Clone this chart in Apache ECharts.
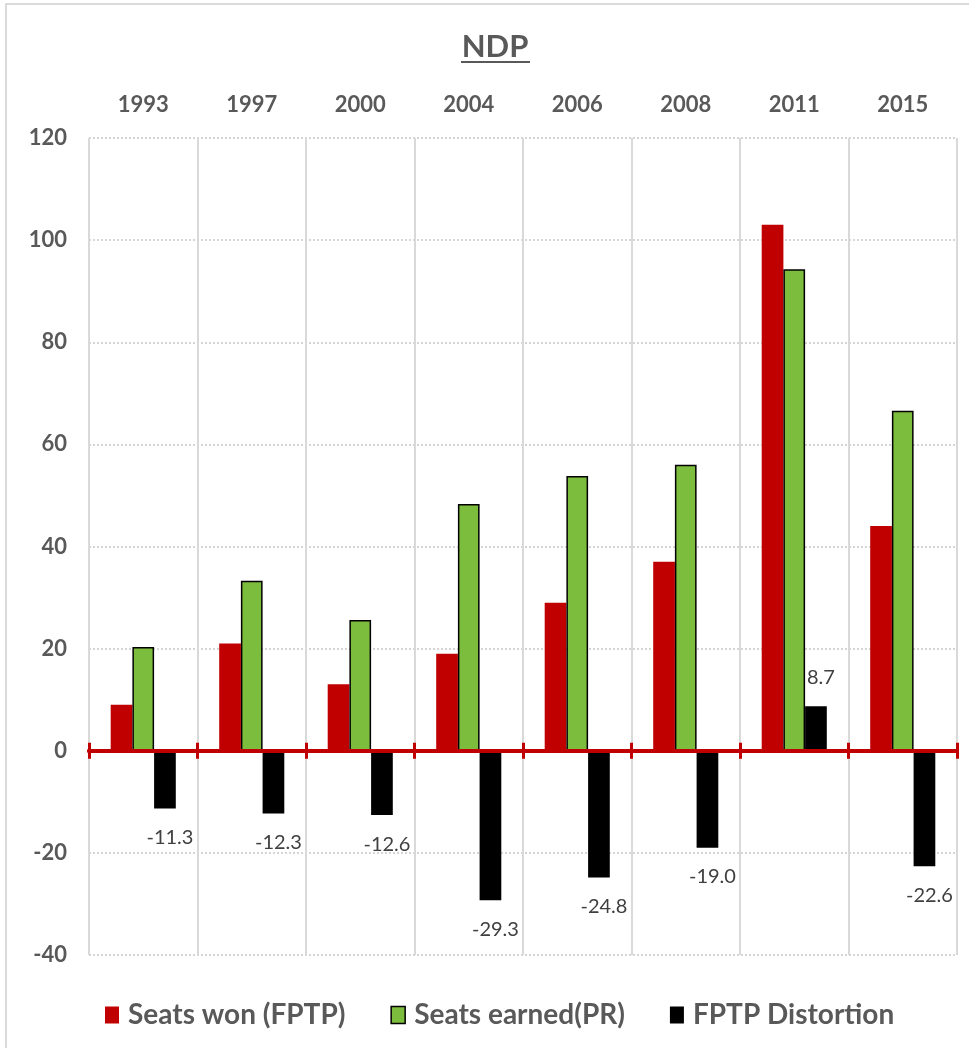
<!DOCTYPE html>
<html>
<head>
<meta charset="utf-8">
<script src="https://cdn.jsdelivr.net/npm/echarts@6/dist/echarts.min.js"></script>
<style>
html,body{margin:0;padding:0;background:#fff;}
#chart{width:969px;height:1048px;}
</style>
</head>
<body>
<div id="chart"></div>
<script>
const years = ['1993','1997','2000','2004','2006','2008','2011','2015'];
const seatsWon = [9, 21, 13, 19, 29, 37, 103, 44];
const seatsEarned = [20.3, 33.3, 25.6, 48.3, 53.8, 56.0, 94.3, 66.6];
const distortion = [-11.3, -12.3, -12.6, -29.3, -24.8, -19.0, 8.7, -22.6];
const yTicks = {min: -40, max: 120, interval: 20};

const FONT = 'Lato, "Open Sans", sans-serif';
const GREY = '#595959';
const RED = '#c00000';

const chart = echarts.init(document.getElementById('chart'), null, {renderer: 'canvas'});

const redAxisLine = {show: true, onZero: true, onZeroAxisIndex: 0, lineStyle: {color: RED, width: 4}};
const redTick = {show: true, length: 8, lineStyle: {color: RED, width: 3}};

chart.setOption({
  animation: false,
  backgroundColor: '#fff',
  grid: {left: 89, right: 12, top: 138, bottom: 93, containLabel: false},
  graphic: [
    {type: 'rect', shape: {x: 6, y: 4, width: 1000, height: 1100}, style: {fill: null, stroke: '#d0d0d0', lineWidth: 1.5}, z: -10},
    {type: 'text', x: 495, y: 47, style: {text: 'NDP', font: 'bold 31px ' + FONT, fill: GREY, textAlign: 'center', textVerticalAlign: 'middle'}},
    {type: 'line', shape: {x1: 461, y1: 62, x2: 530, y2: 62}, style: {stroke: GREY, lineWidth: 2}}
  ],
  legend: {
    top: 996,
    left: 100,
    itemWidth: 14,
    itemHeight: 17,
    itemGap: 45,
    textStyle: {fontFamily: FONT, fontSize: 28, fontWeight: 'bold', color: GREY, padding: [0, 0, 0, 4]},
    data: [
      {name: 'Seats won (FPTP)', icon: 'rect'},
      {name: 'Seats earned(PR)', icon: 'rect', itemStyle: {borderColor: '#000', borderWidth: 1.5}},
      {name: 'FPTP Distortion', icon: 'rect'}
    ]
  },
  xAxis: [
    {
      type: 'category', data: years, position: 'bottom', z: 5,
      axisLine: redAxisLine, axisTick: redTick,
      axisLabel: {show: false},
      splitLine: {show: true, lineStyle: {color: '#d9d9d9', width: 2}}
    },
    {
      type: 'category', data: years, position: 'top',
      axisLine: {show: false, onZero: false}, axisTick: {show: false},
      axisLabel: {show: true, margin: 22, fontFamily: FONT, fontSize: 22, fontWeight: 'bold', color: GREY},
      splitLine: {show: false}
    },
    {
      type: 'category', data: years, position: 'top', z: 5,
      axisLine: redAxisLine, axisTick: redTick,
      axisLabel: {show: false},
      splitLine: {show: false}
    }
  ],
  yAxis: {
    type: 'value', min: yTicks.min, max: yTicks.max, interval: yTicks.interval,
    axisLine: {show: false}, axisTick: {show: false},
    axisLabel: {margin: 22, fontFamily: FONT, fontSize: 22, fontWeight: 'bold', color: GREY},
    splitLine: {show: true, lineStyle: {color: '#c8c8c8', width: 1.5, type: [2, 2]}}
  },
  series: [
    {
      name: 'Seats won (FPTP)', type: 'bar', xAxisIndex: 0, data: seatsWon,
      barGap: '0%', barCategoryGap: '40%',
      itemStyle: {color: RED}
    },
    {
      name: 'Seats earned(PR)', type: 'bar', xAxisIndex: 0, data: seatsEarned,
      barGap: '0%', barCategoryGap: '40%',
      itemStyle: {color: '#7dbd3e', borderColor: '#000', borderWidth: 1.5}
    },
    {
      name: 'FPTP Distortion', type: 'bar', xAxisIndex: 0, data: distortion,
      barGap: '0%', barCategoryGap: '40%',
      itemStyle: {color: '#000'},
      label: {
        show: true, position: 'outside', distance: 19, offset: [5, 0],
        fontFamily: FONT, fontSize: 20, color: '#404040',
        formatter: p => p.value.toFixed(1)
      }
    }
  ]
});
</script>
</body>
</html>
